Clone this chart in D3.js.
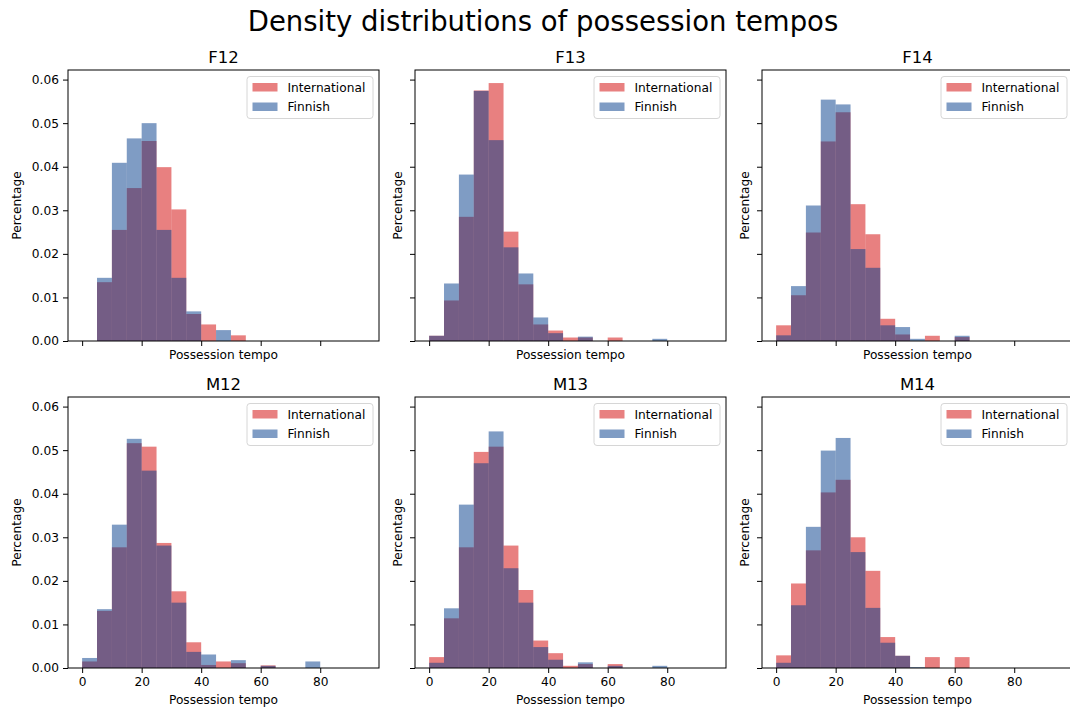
<!DOCTYPE html>
<html>
<head>
<meta charset="utf-8">
<script src="https://cdn.jsdelivr.net/npm/d3@7"></script>
<style>
  body { margin: 0; background: #fff; }
  svg text { font-family: "DejaVu Sans", sans-serif; fill: #000; }
</style>
</head>
<body>
<svg id="chart" width="1070" height="711"></svg>
<script>
// ---- data ----
const panels = ["F12", "F13", "F14", "M12", "M13", "M14"];
const seriesNames = ["International", "Finnish"];
const binStarts = [0,5,10,15,20,25,30,35,40,45,50,55,60,65,70,75,80,85,90];
const binWidth = 5;
const xTicks = [0, 20, 40, 60, 80];
const yTicks = [0, 0.01, 0.02, 0.03, 0.04, 0.05, 0.06];

const intlF12 = [0,0.0135,0.0255,0.0351,0.0459,0.0399,0.0302,0.0062,0.0038,0,0.0013,0,0,0,0,0,0,0,0];
const finF12  = [0,0.0145,0.0409,0.0465,0.0500,0.0255,0.0145,0.0068,0,0.0025,0,0,0,0,0,0,0,0,0];
const intlF13 = [0.0012,0.0093,0.0285,0.0575,0.0592,0.0251,0.0130,0.0038,0.0024,0.0008,0.0008,0,0.0008,0,0,0,0,0,0];
const finF13  = [0.0012,0.0132,0.0382,0.0574,0.0461,0.0215,0.0155,0.0054,0.0018,0,0.0010,0,0,0,0,0.0005,0,0,0];
const intlF14 = [0.0036,0.0105,0.0249,0.0458,0.0525,0.0314,0.0245,0.0051,0.0015,0,0.0012,0,0.0009,0,0,0,0,0,0];
const finF14  = [0.0013,0.0126,0.0311,0.0554,0.0543,0.0211,0.0168,0.0036,0.0032,0.0005,0,0,0.0012,0,0,0,0,0,0];
const intlM12 = [0.0015,0.0131,0.0277,0.0516,0.0508,0.0287,0.0176,0.0059,0.0007,0.0015,0.0011,0,0.0006,0,0,0,0,0,0];
const finM12  = [0.0023,0.0135,0.0329,0.0526,0.0453,0.0281,0.0150,0.0037,0.0031,0,0.0018,0,0.0005,0,0,0.0015,0,0,0];
const intlM13 = [0.0025,0.0114,0.0277,0.0496,0.0508,0.0281,0.0179,0.0063,0.0034,0.0005,0.0009,0,0.0009,0,0,0,0,0,0];
const finM13  = [0.0012,0.0137,0.0375,0.0470,0.0543,0.0229,0.0150,0.0048,0.0019,0,0.0013,0,0.0005,0,0,0.0005,0,0,0];
const intlM14 = [0.0029,0.0194,0.0270,0.0403,0.0432,0.0300,0.0223,0.0071,0.0028,0,0.0025,0,0.0025,0,0,0,0,0,0];
const finM14  = [0.0012,0.0144,0.0324,0.0499,0.0528,0.0266,0.0138,0.0058,0.0028,0.0002,0,0,0,0,0,0,0,0,0];

const intlValues = [intlF12, intlF13, intlF14, intlM12, intlM13, intlM14];
const finValues  = [finF12, finF13, finF14, finM12, finM13, finM14];

// ---- layout ----
const svg = d3.select("#chart");
const axW = 311, axH = 271;
const colLeft = [68, 415, 762];
const rowTop = [70, 397];
const colors = { International: "rgb(209,1,1)", Finnish: "rgb(0,57,137)" };
const alpha = 0.5;
const xDomain = [-4.75, 99.75];
const yMax = 0.0622;
const smallFont = "12.2px";

svg.append("text")
  .attr("x", 543).attr("y", 31)
  .attr("text-anchor", "middle")
  .style("font-size", "27.5px")
  .text("Density distributions of possession tempos");

panels.forEach((name, i) => {
  const col = i % 3, row = Math.floor(i / 3);
  const left = colLeft[col], top = rowTop[row];
  const g = svg.append("g").attr("transform", `translate(${left},${top})`);
  const x = d3.scaleLinear().domain(xDomain).range([0, axW]);
  const y = d3.scaleLinear().domain([0, yMax]).range([axH, 0]);

  const clipId = "clip" + i;
  g.append("clipPath").attr("id", clipId).append("rect")
    .attr("width", axW).attr("height", axH);
  const plot = g.append("g").attr("clip-path", `url(#${clipId})`);

  const series = [
    { key: "International", vals: intlValues[i] },
    { key: "Finnish", vals: finValues[i] }
  ];
  series.forEach(s => {
    plot.selectAll(null)
      .data(binStarts.map((b, k) => ({ b, v: s.vals[k] })).filter(d => d.v > 0))
      .enter().append("rect")
      .attr("x", d => x(d.b))
      .attr("width", d => x(d.b + binWidth) - x(d.b))
      .attr("y", d => y(d.v))
      .attr("height", d => axH - y(d.v))
      .attr("fill", colors[s.key])
      .attr("fill-opacity", alpha);
  });

  // axes
  const xAxis = d3.axisBottom(x).tickValues(xTicks).tickSize(5).tickPadding(4)
    .tickFormat(row === 1 ? d3.format("d") : () => "");
  const yAxis = d3.axisLeft(y).tickValues(yTicks).tickSize(5).tickPadding(4)
    .tickFormat(col === 0 ? d3.format(".2f") : () => "");
  const gx = g.append("g").attr("transform", `translate(0,${axH})`).call(xAxis);
  const gy = g.append("g").call(yAxis);
  [gx, gy].forEach(a => {
    a.select(".domain").remove();
    a.selectAll(".tick line").attr("stroke", "#000").attr("stroke-width", 1);
    a.selectAll(".tick text").style("font-size", smallFont).style("font-family", "DejaVu Sans");
  });

  // frame
  g.append("rect").attr("width", axW).attr("height", axH)
    .attr("fill", "none").attr("stroke", "#000").attr("stroke-width", 1);

  // titles & labels
  g.append("text").attr("x", axW / 2).attr("y", -7)
    .attr("text-anchor", "middle").style("font-size", "16.5px").text(name);
  g.append("text").attr("x", axW / 2).attr("y", axH + (row === 1 ? 36 : 18))
    .attr("text-anchor", "middle").style("font-size", smallFont).text("Possession tempo");
  const ylx = col === 0 ? -51 : -17;
  g.append("text")
    .attr("transform", `translate(${ylx},${axH / 2}) rotate(-90)`)
    .attr("text-anchor", "middle").attr("dy", "0.35em")
    .style("font-size", smallFont).text("Percentage");

  // legend
  const lg = g.append("g").attr("transform", `translate(${axW - 132.5},6)`);
  lg.append("rect").attr("x", 0.5).attr("y", 0.5).attr("width", 126).attr("height", 42)
    .attr("rx", 3).attr("fill", "#fff").attr("fill-opacity", 0.8)
    .attr("stroke", "#d6d6d6").attr("stroke-width", 1);
  seriesNames.forEach((s, k) => {
    const yy = 7 + k * 19.5;
    lg.append("rect").attr("x", 6).attr("y", yy).attr("width", 25).attr("height", 8.5)
      .attr("fill", colors[s]).attr("fill-opacity", alpha);
    lg.append("text").attr("x", 41).attr("y", yy + 4.3).attr("dy", "0.35em")
      .style("font-size", "12.2px").text(s);
  });
});
</script>
</body>
</html>
